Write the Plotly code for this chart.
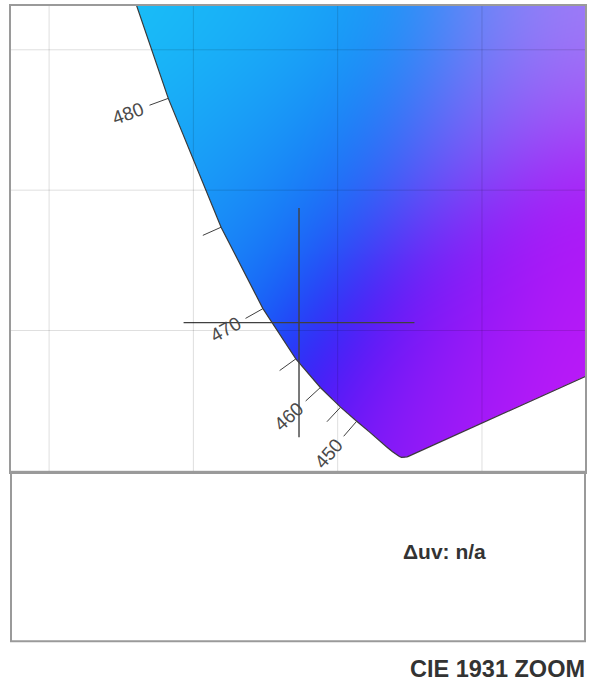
import base64
import math
import struct
import zlib

import numpy as np
import plotly.graph_objects as go

# ---------------- data ----------------
wavelengths = [380, 385, 390, 395, 400, 405, 410, 415, 420, 425, 430, 435, 440, 445,
               450, 455, 460, 465, 470, 475, 480, 485, 490, 495, 500, 505, 510, 515,
               520, 525, 530, 535, 540, 545, 550, 555, 560, 565, 570, 575, 580, 585,
               590, 595, 600, 605, 610, 615, 620, 625, 630, 635, 640, 645, 650, 655,
               660, 665, 670, 675, 680, 685, 690, 695, 700]
locus_x = [0.1741, 0.1740, 0.1738, 0.1736, 0.1733, 0.1730, 0.1726, 0.1721, 0.1714, 0.1703,
           0.1689, 0.1669, 0.1644, 0.1611, 0.1566, 0.1510, 0.1440, 0.1355, 0.1241, 0.1096,
           0.0913, 0.0687, 0.0454, 0.0235, 0.0082, 0.0039, 0.0139, 0.0389, 0.0743, 0.1142,
           0.1547, 0.1929, 0.2296, 0.2658, 0.3016, 0.3373, 0.3731, 0.4087, 0.4441, 0.4788,
           0.5125, 0.5448, 0.5752, 0.6029, 0.6270, 0.6482, 0.6658, 0.6801, 0.6915, 0.7006,
           0.7079, 0.7140, 0.7190, 0.7230, 0.7260, 0.7283, 0.7300, 0.7311, 0.7320, 0.7327,
           0.7334, 0.7340, 0.7344, 0.7346, 0.7347]
locus_y = [0.0050, 0.0050, 0.0049, 0.0049, 0.0048, 0.0048, 0.0048, 0.0048, 0.0051, 0.0058,
           0.0069, 0.0086, 0.0109, 0.0138, 0.0177, 0.0227, 0.0297, 0.0399, 0.0578, 0.0868,
           0.1327, 0.2007, 0.2950, 0.4127, 0.5384, 0.6548, 0.7502, 0.8120, 0.8338, 0.8262,
           0.8059, 0.7816, 0.7543, 0.7243, 0.6923, 0.6589, 0.6245, 0.5896, 0.5547, 0.5202,
           0.4866, 0.4544, 0.4242, 0.3965, 0.3725, 0.3514, 0.3340, 0.3197, 0.3083, 0.2993,
           0.2920, 0.2859, 0.2809, 0.2770, 0.2740, 0.2717, 0.2700, 0.2689, 0.2680, 0.2673,
           0.2666, 0.2660, 0.2656, 0.2654, 0.2653]
tick_wavelengths = [450, 455, 460, 465, 470, 475, 480]
label_wavelengths = [450, 460, 470, 480]
white_point = [0.3127, 0.3290]
crosshair_x = 0.1366
crosshair_y = 0.0528
crosshair_half_x = 0.0400
crosshair_half_y = 0.0408
grid_x = [0.05, 0.10, 0.15, 0.20]
grid_y = [0.00, 0.05, 0.10, 0.15]
delta_uv_text = "Δuv: n/a"
title_text = "CIE 1931 ZOOM"

# ---------------- layout geometry ----------------
FIG_W, FIG_H = 597, 686
M_L, M_R, M_T, M_B = 11, 12, 4, 214
x_range = [0.0368, 0.2357]
y_range = [-0.0004, 0.1656]
plot_w = FIG_W - M_L - M_R
plot_h = FIG_H - M_T - M_B
sx = plot_w / (x_range[1] - x_range[0])
sy = plot_h / (y_range[1] - y_range[0])

TICK_LEN = 20.0   # px
LABEL_GAP = 23.0  # px from tick end to label centre
BORDER = "#9a9a9a"
INK = "#404040"

# ---------------- chromaticity fill image ----------------
SS = 2
IW, IH = plot_w * SS, plot_h * SS
px = x_range[0] + (np.arange(IW) + 0.5) * (x_range[1] - x_range[0]) / IW
py = y_range[1] - (np.arange(IH) + 0.5) * (y_range[1] - y_range[0]) / IH
GX, GY = np.meshgrid(px, py)

yy = np.maximum(GY, 2e-3)
Xc = GX / yy
Yc = np.ones_like(GX)
Zc = (1.0 - GX - yy) / yy
R = 3.2406 * Xc - 1.5372 * Yc - 0.4986 * Zc
G = -0.9689 * Xc + 1.8758 * Yc + 0.0415 * Zc
B = 0.0557 * Xc - 0.2040 * Yc + 1.0570 * Zc
rgb = np.stack([R, G, B], axis=-1)
mn = rgb.min(axis=-1, keepdims=True)
rgb = rgb - 0.75 * np.minimum(mn, 0)
rgb = np.maximum(rgb, 0)
rgb = rgb / np.maximum(rgb.max(axis=-1, keepdims=True), 1e-9)
rgb = np.where(rgb <= 0.0031308, 12.92 * rgb, 1.055 * np.power(rgb, 1 / 2.4) - 0.055)


def box_blur(a, r, axis):
    pad = [(0, 0)] * a.ndim
    pad[axis] = (r + 1, r)
    p = np.pad(a, pad, mode="edge")
    c = np.cumsum(p, axis=axis)
    n_ = a.shape[axis]
    hi = np.take(c, np.arange(2 * r + 1, 2 * r + 1 + n_), axis=axis)
    lo = np.take(c, np.arange(0, n_), axis=axis)
    return (hi - lo) / (2 * r + 1)


BLUR_R = 40 * SS
for _ in range(3):
    rgb = box_blur(rgb, BLUR_R, 0)
    rgb = box_blur(rgb, BLUR_R, 1)

# soften slightly toward white and cap brightness, as in the reference
rgb = 0.90 * rgb + 0.10
rgb = rgb * 0.97
rgb = np.clip(rgb * 255.0 + 0.5, 0, 255).astype(np.uint8)

# point in polygon (closed locus, purple line back to start)
polx = np.array(locus_x)
poly = np.array(locus_y)
inside = np.zeros(GX.shape, dtype=bool)
n = len(polx)
for i in range(n):
    x1, y1 = polx[i], poly[i]
    x2, y2 = polx[(i + 1) % n], poly[(i + 1) % n]
    if y1 == y2:
        continue
    cond = (y1 > GY) != (y2 > GY)
    xint = x1 + (GY - y1) * (x2 - x1) / (y2 - y1)
    inside ^= cond & (GX < xint)

alpha = np.where(inside, 255, 0).astype(np.uint8)
rgba = np.concatenate([rgb, alpha[..., None]], axis=-1)


def png_uri(arr):
    h, w, _ = arr.shape
    raw = b"".join(b"\x00" + arr[r].tobytes() for r in range(h))

    def chunk(tag, data):
        c = struct.pack(">I", len(data)) + tag + data
        return c + struct.pack(">I", zlib.crc32(tag + data) & 0xFFFFFFFF)

    png = (b"\x89PNG\r\n\x1a\n"
           + chunk(b"IHDR", struct.pack(">IIBBBBB", w, h, 8, 6, 0, 0, 0))
           + chunk(b"IDAT", zlib.compress(raw, 9))
           + chunk(b"IEND", b""))
    return "data:image/png;base64," + base64.b64encode(png).decode()


fig = go.Figure()

# locus outline (incl. purple line)
fig.add_trace(go.Scatter(
    x=locus_x + [locus_x[0]], y=locus_y + [locus_y[0]], mode="lines",
    line=dict(color="#3a3a3a", width=1.2), hoverinfo="skip", showlegend=False))

# wavelength ticks and labels
tick_xs, tick_ys = [], []
annotations = []
for wl in tick_wavelengths:
    i = wavelengths.index(wl)
    x0, y0 = locus_x[i], locus_y[i]
    tx = (locus_x[i + 1] - locus_x[i - 1]) * sx
    ty = -(locus_y[i + 1] - locus_y[i - 1]) * sy
    ln = math.hypot(tx, ty)
    nx, ny = ty / ln, -tx / ln
    wx = (white_point[0] - x0) * sx
    wy = -(white_point[1] - y0) * sy
    if nx * wx + ny * wy > 0:
        nx, ny = -nx, -ny
    ex = x0 + nx * TICK_LEN / sx
    ey = y0 - ny * TICK_LEN / sy
    tick_xs += [x0, ex, None]
    tick_ys += [y0, ey, None]
    if wl in label_wavelengths:
        d = TICK_LEN + LABEL_GAP
        lx = x0 + nx * d / sx
        ly = y0 - ny * d / sy
        ang = math.degrees(math.atan2(-ny, -nx))
        annotations.append(dict(
            x=lx, y=ly, xref="x", yref="y", text=str(wl), showarrow=False,
            textangle=ang, xanchor="center", yanchor="middle",
            font=dict(family="Liberation Sans, Arial", size=19, color="#4a4a4a")))

fig.add_trace(go.Scatter(
    x=tick_xs, y=tick_ys, mode="lines", line=dict(color=INK, width=1),
    hoverinfo="skip", showlegend=False))

# crosshair
fig.add_trace(go.Scatter(
    x=[crosshair_x - crosshair_half_x, crosshair_x + crosshair_half_x, None,
       crosshair_x, crosshair_x],
    y=[crosshair_y, crosshair_y, None,
       crosshair_y - crosshair_half_y, crosshair_y + crosshair_half_y],
    mode="lines", line=dict(color=INK, width=1.4), hoverinfo="skip", showlegend=False))

shapes = []
for gx in grid_x:
    shapes.append(dict(type="line", xref="x", yref="paper", x0=gx, x1=gx, y0=0, y1=1,
                       line=dict(color="rgba(0,0,0,0.13)", width=1), layer="above"))
for gy in grid_y:
    shapes.append(dict(type="line", xref="paper", yref="y", x0=0, x1=1, y0=gy, y1=gy,
                       line=dict(color="rgba(0,0,0,0.13)", width=1), layer="above"))

# lower info panel
panel_bottom_px = 642
panel_y0 = -(panel_bottom_px - (FIG_H - M_B)) / plot_h
shapes.append(dict(type="rect", xref="paper", yref="paper", x0=0, x1=1, y0=panel_y0, y1=0,
                   line=dict(color=BORDER, width=2), fillcolor="rgba(0,0,0,0)", layer="above"))


def paper_x(pxv):
    return (pxv - M_L) / plot_w


def paper_y(pyv):
    return ((FIG_H - M_B) - pyv) / plot_h


annotations.append(dict(
    x=paper_x(444), y=paper_y(552), xref="paper", yref="paper", text="<b>%s</b>" % delta_uv_text,
    showarrow=False, xanchor="center", yanchor="middle",
    font=dict(family="Liberation Sans, Arial", size=21, color="#333333")))
annotations.append(dict(
    x=paper_x(587), y=paper_y(670), xref="paper", yref="paper", text="<b>%s</b>" % title_text,
    showarrow=False, xanchor="right", yanchor="middle",
    font=dict(family="Liberation Sans, Arial", size=23.5, color="#333333")))

fig.update_layout(
    width=FIG_W, height=FIG_H,
    margin=dict(l=M_L, r=M_R, t=M_T, b=M_B, pad=0),
    paper_bgcolor="white", plot_bgcolor="white",
    showlegend=False,
    xaxis=dict(range=x_range, showgrid=False, zeroline=False, showticklabels=False,
               ticks="", showline=True, mirror=True, linecolor=BORDER, linewidth=2),
    yaxis=dict(range=y_range, showgrid=False, zeroline=False, showticklabels=False,
               ticks="", showline=True, mirror=True, linecolor=BORDER, linewidth=2),
    images=[dict(source=png_uri(rgba), xref="x", yref="y",
                 x=x_range[0], y=y_range[1],
                 sizex=x_range[1] - x_range[0], sizey=y_range[1] - y_range[0],
                 xanchor="left", yanchor="top", sizing="stretch", layer="below")],
    shapes=shapes,
    annotations=annotations,
)

fig.write_html("out.html", config={"displayModeBar": False},
               post_script="document.body.style.margin='0';")
